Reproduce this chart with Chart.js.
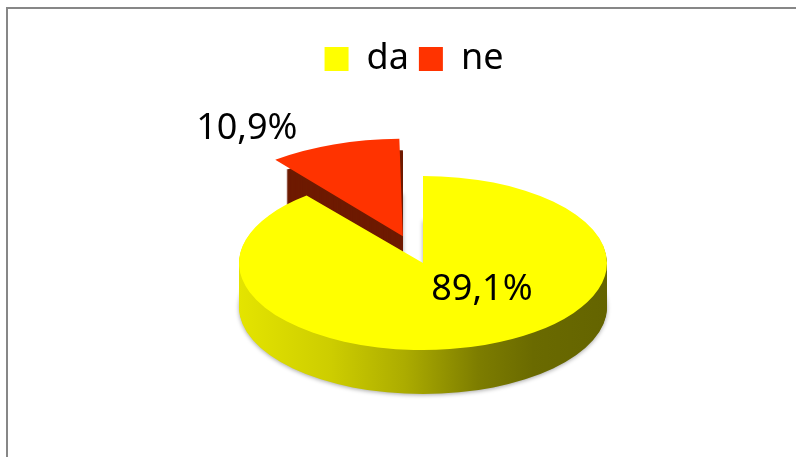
<!DOCTYPE html>
<html>
<head>
<meta charset="utf-8">
<script src="https://cdn.jsdelivr.net/npm/chart.js@4/dist/chart.umd.min.js"></script>
<style>
  html, body { margin: 0; background: #fff; }
  #wrap { position: relative; width: 796px; height: 457px; overflow: hidden; }
  #frame { position: absolute; left: 6px; top: 7px; width: 900px; height: 600px;
           border-left: 2px solid #878787; border-top: 2px solid #878787; }
  canvas { position: absolute; left: 0; top: 0; }
</style>
</head>
<body>
<div id="wrap">
  <div id="frame"></div>
  <canvas id="pieChart" width="796" height="457"></canvas>
</div>
<script>
const categories = ["da", "ne"];
const shares = [89.1, 10.9];

const topColors = ["#ffff00", "#ff3300"];
const sideColors = ["#b0b000", "#6e1a00"];

// fake 3D: squash the pie vertically and stack darker copies under it
const TILT = 0.473;
const DEPTH = 44;
const CENTER_X = 423;
const CENTER_Y = 263;
const labelNudge = [[28, -14], [-105, -40]];

function yellowSide(ctx, x0, r) {
  const g = ctx.createLinearGradient(x0 - r, 0, x0 + r, 0);
  g.addColorStop(0, "rgb(228,228,0)");
  g.addColorStop(0.25, "rgb(205,205,0)");
  g.addColorStop(0.45, "rgb(172,172,0)");
  g.addColorStop(0.65, "rgb(125,125,0)");
  g.addColorStop(0.8, "rgb(106,106,0)");
  g.addColorStop(1, "rgb(100,100,0)");
  return g;
}

const tiltPlugin = {
  id: "tilt",
  beforeDatasetsDraw(chart) {
    const ctx = chart.ctx;
    const meta = chart.getDatasetMeta(0);
    // back slice first so the front slice covers it
    [1, 0].forEach((i) => {
      const arc = meta.data[i];
      const p = arc.getProps(["x", "y", "startAngle", "endAngle", "outerRadius"], true);
      const off = (arc.options.offset || 0) / 4; // same shift ArcElement uses
      const mid = (p.startAngle + p.endAngle) / 2;
      const cx = p.x + Math.cos(mid) * off;
      const cy = p.y + Math.sin(mid) * off;
      for (let d = DEPTH; d >= 1; d--) {
        ctx.save();
        if (d === DEPTH) {
          ctx.shadowColor = "rgba(0,0,0,0.35)";
          ctx.shadowBlur = 4;
          ctx.shadowOffsetY = 1;
        }
        ctx.translate(CENTER_X, CENTER_Y + d);
        ctx.scale(1, TILT);
        ctx.translate(-p.x, -p.y);
        ctx.beginPath();
        ctx.moveTo(cx, cy);
        ctx.arc(cx, cy, p.outerRadius, p.startAngle, p.endAngle);
        ctx.closePath();
        ctx.fillStyle = i === 0 ? yellowSide(ctx, p.x, p.outerRadius) : sideColors[i];
        ctx.fill();
        ctx.restore();
      }
    });
    const a = meta.data[0];
    ctx.save();
    ctx.translate(CENTER_X, CENTER_Y);
    ctx.scale(1, TILT);
    ctx.translate(-a.x, -a.y);
  },
  afterDatasetsDraw(chart) {
    chart.ctx.restore();
  },
  afterDraw(chart) {
    const ctx = chart.ctx;
    const meta = chart.getDatasetMeta(0);
    ctx.save();
    ctx.font = "36px 'Noto Sans'";
    ctx.fillStyle = "#000";
    ctx.textAlign = "center";
    ctx.textBaseline = "middle";
    meta.data.forEach((arc, i) => {
      const pos = arc.tooltipPosition(true);
      const sx = CENTER_X + (pos.x - arc.x) + labelNudge[i][0];
      const sy = CENTER_Y + TILT * (pos.y - arc.y) + labelNudge[i][1];
      ctx.fillText(shares[i].toFixed(1).replace(".", ",") + "%", sx, sy);
    });
    ctx.restore();
  },
};

const ctx = document.getElementById("pieChart").getContext("2d");
new Chart(ctx, {
  type: "pie",
  data: {
    labels: categories,
    datasets: [
      {
        data: shares,
        backgroundColor: topColors,
        borderWidth: 0,
        offset: [0, 240],
        radius: 184,
        clip: false,
      },
    ],
  },
  options: {
    responsive: false,
    animation: false,
    rotation: 0,
    layout: { padding: { top: 31, left: 32, right: 0, bottom: 20 } },
    plugins: {
      legend: {
        position: "top",
        labels: {
          color: "#000",
          font: { family: "'Noto Sans'", size: 36 },
          boxWidth: 24,
          boxHeight: 24,
          padding: 10,
        },
      },
      tooltip: { enabled: false },
    },
  },
  plugins: [tiltPlugin],
});
</script>
</body>
</html>
